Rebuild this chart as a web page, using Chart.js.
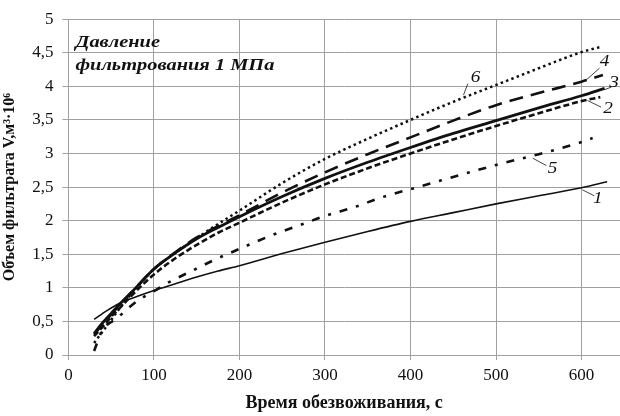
<!DOCTYPE html>
<html>
<head>
<meta charset="utf-8">
<script src="https://cdn.jsdelivr.net/npm/chart.js@4"></script>
<style>
  html, body { margin: 0; padding: 0; background: #fff; }
  #wrap { width: 620px; height: 416px; position: relative; }
</style>
</head>
<body>
<div id="wrap"><canvas id="chart"></canvas></div>
<script>
// Filtrate volume vs dewatering time, 1 MPa filtration pressure
const xTicks = [0, 100, 200, 300, 400, 500, 600]
const yTicks = [0, 0.5, 1, 1.5, 2, 2.5, 3, 3.5, 4, 4.5, 5]

// curve 1 - thin solid
const t1 = [30, 45, 60, 80, 100, 125, 150, 175, 200, 250, 300, 350, 400, 450, 500, 550, 600, 630]
const v1 = [0.53, 0.66, 0.77, 0.87, 0.96, 1.06, 1.16, 1.25, 1.33, 1.51, 1.68, 1.84, 1.99, 2.12, 2.25, 2.37, 2.49, 2.58]

// curve 2 - short dashes
const t2 = [30, 40, 50, 60, 75, 100, 125, 150, 175, 200, 250, 300, 350, 400, 450, 500, 550, 600, 622]
const v2 = [0.28, 0.42, 0.57, 0.70, 0.90, 1.20, 1.44, 1.64, 1.82, 1.97, 2.27, 2.54, 2.78, 3.00, 3.21, 3.41, 3.60, 3.78, 3.84]

// curve 3 - thick solid
const t3 = [30, 40, 50, 60, 75, 100, 125, 150, 175, 200, 250, 300, 350, 400, 450, 500, 550, 600, 627]
const v3 = [0.32, 0.48, 0.62, 0.76, 0.95, 1.28, 1.52, 1.73, 1.90, 2.06, 2.36, 2.63, 2.87, 3.09, 3.30, 3.49, 3.68, 3.86, 3.97]

// curve 4 - long dashes
const t4 = [30, 40, 50, 60, 75, 100, 125, 150, 175, 200, 250, 300, 350, 400, 450, 500, 550, 600, 625]
const v4 = [0.30, 0.46, 0.60, 0.75, 0.95, 1.28, 1.53, 1.75, 1.92, 2.08, 2.42, 2.72, 2.99, 3.24, 3.49, 3.72, 3.90, 4.07, 4.17]

// curve 5 - dash-dot
const t5 = [30, 40, 55, 80, 100, 117, 144, 173, 200, 237, 270, 300, 334, 367, 400, 450, 500, 550, 600, 613]
const v5 = [0.06, 0.38, 0.53, 0.80, 0.95, 1.08, 1.25, 1.43, 1.58, 1.78, 1.93, 2.07, 2.20, 2.35, 2.47, 2.65, 2.83, 2.99, 3.17, 3.23]

// curve 6 - dotted
const t6 = [30, 40, 50, 60, 75, 100, 125, 150, 175, 200, 250, 300, 350, 400, 450, 500, 550, 600, 623]
const v6 = [0.18, 0.35, 0.52, 0.70, 0.93, 1.28, 1.52, 1.74, 1.95, 2.15, 2.56, 2.92, 3.22, 3.50, 3.77, 4.02, 4.27, 4.51, 4.59]

// curve numbers with leader lines, in data units: [text, tx, ty, fromX, fromY, toX, toY]
const curveLabels = [
  ['6', 476, 4.13, 467, 4.04, 462, 3.87],
  ['4', 627, 4.37, 621, 4.27, 605, 4.09],
  ['3', 638, 4.05, 635, 3.99, 627, 3.95],
  ['2', 631, 3.67, 623, 3.69, 607, 3.79],
  ['5', 566, 2.77, 559, 2.82, 543, 2.93],
  ['1', 619, 2.33, 615, 2.37, 601, 2.46],
]

const noteLines = ['Давление', 'фильтрования 1 МПа']

const pts = (t, v) => t.map((x, i) => ({ x: x, y: v[i] }))

const serif = '"Liberation Serif", "Times New Roman", serif'
const gridColor = '#a0a0a0'
const stretch = 1.2 // the typeset text is a bit wide

const base = {
  pointRadius: 0,
  borderColor: '#111',
  fill: false,
  tension: 0.3,
  cubicInterpolationMode: 'monotone',
}

const datasets = [
  { ...base, label: '1', data: pts(t1, v1), borderWidth: 1.6 },
  { ...base, label: '2', data: pts(t2, v2), borderWidth: 2.6, borderDash: [6, 3] },
  { ...base, label: '3', data: pts(t3, v3), borderWidth: 2.8 },
  { ...base, label: '4', data: pts(t4, v4), borderWidth: 2.6, borderDash: [14, 8] },
  { ...base, label: '5', data: pts(t5, v5), borderWidth: 2.6, borderDash: [8, 9, 3, 9] },
  { ...base, label: '6', data: pts(t6, v6), borderWidth: 2.5, borderDash: [2.5, 3.2] },
]

function wideText(ctx, txt, x, y) {
  ctx.save()
  ctx.translate(x, y)
  ctx.scale(stretch, 1)
  ctx.fillText(txt, 0, 0)
  ctx.restore()
}

const annotate = {
  id: 'annotate',
  afterDatasetsDraw(chart) {
    const { ctx, scales } = chart
    const xs = scales.x, ys = scales.y
    ctx.save()
    ctx.fillStyle = '#111'
    ctx.strokeStyle = '#111'
    ctx.lineWidth = 0.8
    ctx.textAlign = 'center'
    ctx.textBaseline = 'middle'
    ctx.font = 'italic 16px ' + serif
    curveLabels.forEach(([txt, tx, ty, fx, fy, ex, ey]) => {
      ctx.beginPath()
      ctx.moveTo(xs.getPixelForValue(fx), ys.getPixelForValue(fy))
      ctx.lineTo(xs.getPixelForValue(ex), ys.getPixelForValue(ey))
      ctx.stroke()
      wideText(ctx, txt, xs.getPixelForValue(tx), ys.getPixelForValue(ty))
    })

    // pressure note in the top-left corner
    ctx.textAlign = 'left'
    ctx.textBaseline = 'alphabetic'
    ctx.font = 'italic bold 17px ' + serif
    const left = chart.chartArea.left + 7
    const top = chart.chartArea.top
    wideText(ctx, noteLines[0], left, top + 28)
    wideText(ctx, noteLines[1], left, top + 51)
    ctx.restore()
  }
}

new Chart(document.getElementById('chart'), {
  type: 'line',
  data: { datasets: datasets },
  options: {
    responsive: true,
    maintainAspectRatio: false,
    animation: false,
    layout: { padding: { top: 14, right: 0, bottom: 2, left: 0 } },
    plugins: {
      legend: { display: false },
      tooltip: { enabled: false },
    },
    scales: {
      x: {
        type: 'linear',
        min: 0,
        max: 645,
        afterBuildTicks: (axis) => { axis.ticks = xTicks.map(v => ({ value: v })) },
        ticks: {
          color: '#111',
          font: { family: serif, size: 17 },
          padding: 5,
          maxRotation: 0,
        },
        grid: { color: gridColor, tickLength: 5, lineWidth: 1 },
        border: { color: gridColor },
        title: {
          display: true,
          text: 'Время обезвоживания, с',
          color: '#111',
          font: { family: serif, size: 18, weight: 'bold' },
          padding: { top: 2, bottom: 0 },
        },
      },
      y: {
        type: 'linear',
        min: 0,
        max: 5,
        afterBuildTicks: (axis) => { axis.ticks = yTicks.map(v => ({ value: v })) },
        ticks: {
          color: '#111',
          font: { family: serif, size: 17 },
          padding: 9,
          callback: (v) => String(v).replace('.', ','),
        },
        grid: { color: gridColor, tickLength: 6, lineWidth: 1 },
        border: { color: gridColor },
        title: {
          display: true,
          text: 'Объем фильтрата V,м³·10⁶',
          color: '#111',
          font: { family: serif, size: 16, weight: 'bold' },
          padding: { top: 0, bottom: 4 },
        },
      },
    },
  },
  plugins: [annotate],
})
</script>
</body>
</html>
